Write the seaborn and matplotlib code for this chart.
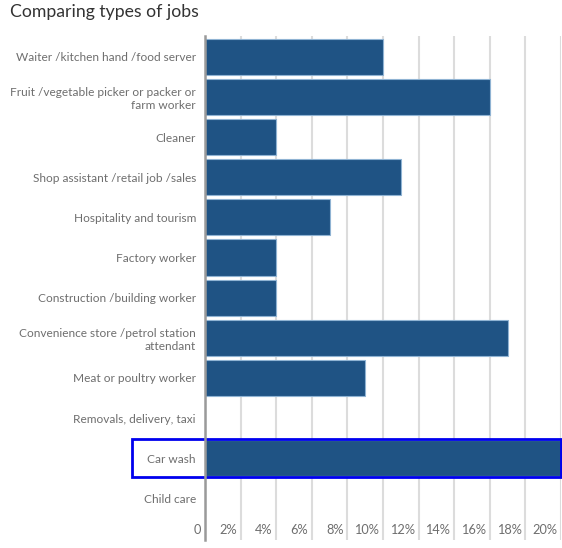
import matplotlib
matplotlib.use("Agg")
import matplotlib.pyplot as plt
import matplotlib.transforms as mtransforms
from matplotlib.patches import Rectangle
import pandas as pd
import seaborn as sns

# Chart data
jobs = [
    "Waiter /kitchen hand /food server",
    "Fruit /vegetable picker or packer or\nfarm worker",
    "Cleaner",
    "Shop assistant /retail job /sales",
    "Hospitality and tourism",
    "Factory worker",
    "Construction /building worker",
    "Convenience store /petrol station\nattendant",
    "Meat or poultry worker",
    "Removals, delivery, taxi",
    "Car wash",
    "Child care",
]
shares = [10, 16, 4, 11, 7, 4, 4, 17, 9, 0, 20, 0]
ticks = [0, 2, 4, 6, 8, 10, 12, 14, 16, 18, 20]
tick_labels = ["0", "2%", "4%", "6%", "8%", "10%", "12%", "14%", "16%", "18%", "20%"]
highlight = "Car wash"

sns.set_theme(style="white")
plt.rcParams["font.family"] = ["Lato", "DejaVu Sans"]

bar_color = "#1f5384"
text_color = "#6e6e6e"

df = pd.DataFrame({"job": jobs, "share": shares})

fig = plt.figure(figsize=(5.62, 5.48), dpi=100)
ax = fig.add_axes([205 / 562, 8 / 548, 356 / 562, 504 / 548])

sns.barplot(data=df, x="share", y="job", orient="h", color=bar_color,
            width=0.9, edgecolor="#8fb3d3", linewidth=0.8, saturation=1, ax=ax)

ax.set_xlim(0, 20)
ax.set_ylim(12.04, -0.52)
ax.set_xticks(ticks)
ax.set_xticklabels([])
ax.grid(axis="x", color="#dcdcdc", linewidth=1.5)
ax.set_axisbelow(True)
ax.set_xlabel("")
ax.set_ylabel("")
ax.tick_params(axis="y", length=0, pad=6.5, labelsize=8.6, labelcolor=text_color)
ax.tick_params(axis="x", length=0)
for side in ["top", "right", "bottom"]:
    ax.spines[side].set_visible(False)
ax.spines["left"].set_color("#9a9a9a")
ax.spines["left"].set_linewidth(1.8)

# x tick labels sit inside the plot, just left of each gridline
label_offset = mtransforms.offset_copy(ax.transData, fig=fig, x=-4, y=0, units="dots")
for t, lab in zip(ticks, tick_labels):
    ax.text(t, 11.8, lab, ha="right", va="center", fontsize=9.2,
            color=text_color, transform=label_offset)

# highlight box around the car wash row and its label
row = jobs.index(highlight)
box_tf = mtransforms.blended_transform_factory(ax.transAxes, ax.transData)
ax.add_patch(Rectangle((-0.205, row - 0.47), 1.205, 0.94, transform=box_tf,
                       fill=False, edgecolor="#0000ee", linewidth=2, clip_on=False))

fig.text(10 / 562, 1 - 12 / 548, "Comparing types of jobs", ha="left", va="center",
         fontsize=12.7, color="#333333")

fig.savefig("out.png", dpi=100)
